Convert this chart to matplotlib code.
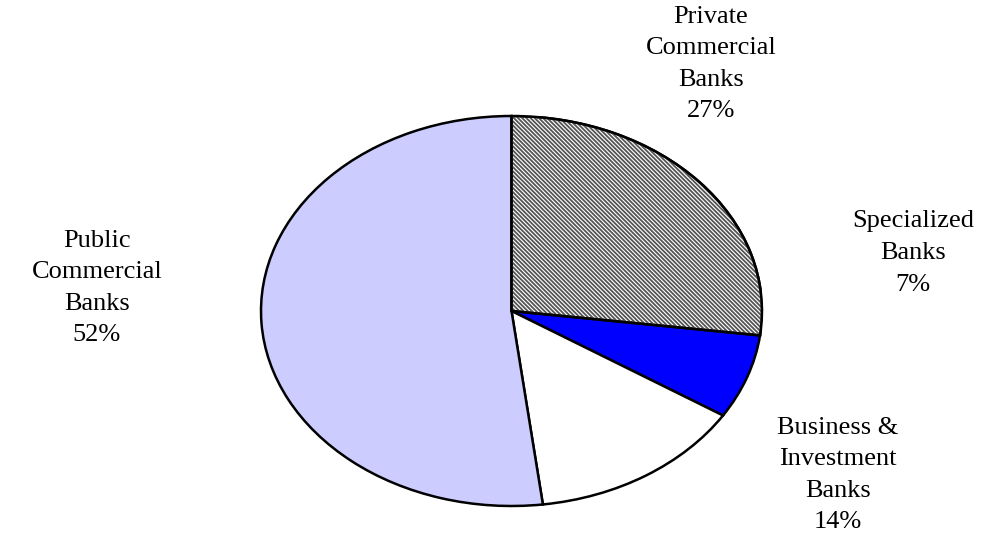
import matplotlib.pyplot as plt
from matplotlib.patches import Wedge

# data (clockwise from 12 o'clock)
labels = ['Private\nCommercial\nBanks', 'Specialized\nBanks', 'Business &\nInvestment\nBanks', 'Public\nCommercial\nBanks']
shares = [27, 7, 14, 52]
colors = ['white', '#0000ff', 'white', '#ccccff']

plt.rcParams['font.family'] = ['Liberation Serif', 'DejaVu Serif']
plt.rcParams['hatch.linewidth'] = 1.3

W, H = 993, 539
fig = plt.figure(figsize=(W / 100, H / 100), dpi=100)
# ellipse: x 261..762, y 116..506 (pixels from top)
ax = fig.add_axes([261 / W, (H - 506) / H, 501 / W, 390 / H])

wedges, _ = ax.pie(shares, colors=colors, startangle=90, counterclock=False,
                   wedgeprops=dict(edgecolor='black', linewidth=1.8))
ax.set_aspect('auto')
ax.set_xlim(-1, 1)
ax.set_ylim(-1, 1)
ax.axis('off')

# hatched overlay on the private banks slice
w = wedges[0]
hatch = Wedge(w.center, w.r, w.theta1, w.theta2, facecolor='none',
              edgecolor='#555555', hatch='\\' * 8, linewidth=0, zorder=w.get_zorder() + 0.1)
ax.add_patch(hatch)
edge = Wedge(w.center, w.r, w.theta1, w.theta2, facecolor='none',
             edgecolor='black', linewidth=1.8, zorder=w.get_zorder() + 0.2)
ax.add_patch(edge)

# label centres in pixels (from top)
label_pos = [(711, 64), (913, 253), (838, 475), (97, 288)]
for lab, s, (px, py) in zip(labels, shares, label_pos):
    fig.text(px / W, 1 - py / H, f'{lab}\n{s}%', ha='center', va='center',
             fontsize=19, linespacing=1.56)

fig.savefig('out.png', dpi=100)
